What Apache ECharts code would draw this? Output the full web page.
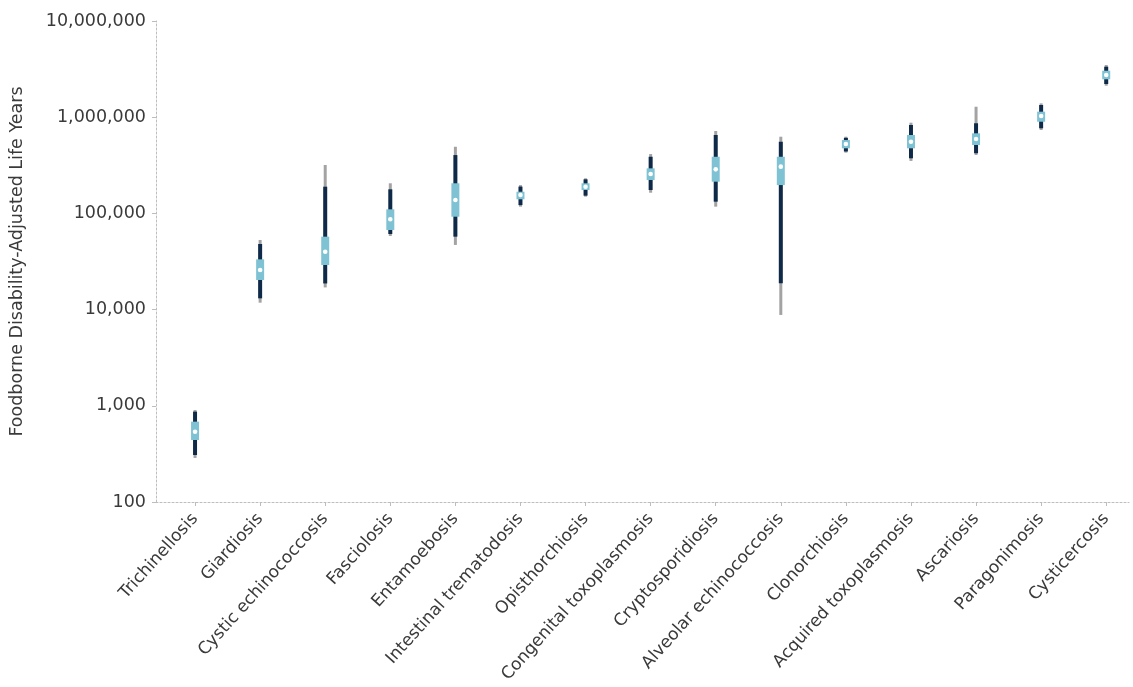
<!DOCTYPE html>
<html>
<head>
<meta charset="utf-8">
<script src="https://cdn.jsdelivr.net/npm/echarts@6/dist/echarts.min.js"></script>
<style>
  html, body { margin: 0; padding: 0; background: #fff; }
  #chart { width: 1133px; height: 687px; }
</style>
</head>
<body>
<div id="chart"></div>
<script>
// Foodborne parasitic diseases, DALYs (uncertainty ranges)
const categories = [
  'Trichinellosis', 'Giardiosis', 'Cystic echinococcosis', 'Fasciolosis',
  'Entamoebosis', 'Intestinal trematodosis', 'Opisthorchiosis',
  'Congenital toxoplasmosis', 'Cryptosporidiosis', 'Alveolar echinococcosis',
  'Clonorchiosis', 'Acquired toxoplasmosis', 'Ascariosis', 'Paragonimosis',
  'Cysticercosis'
];
// outer interval (grey)
const outerLow  = [287, 11800, 17000, 58200, 47000, 117500, 149300, 164000, 117500, 8800, 428000, 351000, 405000, 736000, 2125000];
const outerHigh = [905, 52900, 318500, 205600, 493000, 197000, 231800, 414000, 719000, 627000, 627000, 877000, 1285000, 1393000, 3490000];
// inner interval (dark)
const innerLow  = [308, 13100, 18700, 61100, 57300, 122000, 153000, 175000, 132400, 18800, 440000, 374000, 422000, 767000, 2213000];
const innerHigh = [870, 48100, 189500, 178000, 404000, 190000, 226000, 388000, 653000, 556000, 610000, 830000, 865000, 1339000, 3350000];
// interquartile range (light blue)
const q1 = [441, 20300, 29100, 67200, 92400, 140200, 175000, 222500, 213600, 197000, 475000, 475000, 514000, 897000, 2477000];
const q3 = [684, 33300, 57300, 110300, 205600, 168000, 205600, 294000, 388000, 388000, 579000, 653000, 680000, 1141000, 3042000];
// median
const median = [538, 25800, 40000, 86900, 137800, 155400, 189500, 257000, 287000, 306000, 526000, 556000, 593000, 1029000, 2745000];

const COLORS = { outer: '#a3a3a3', inner: '#0f2a48', box: '#7ec2d4', dot: '#ffffff' };
const TEXT = '#3a3a3a';
const FONT = 'DejaVu Sans';

const seriesData = categories.map((c, i) => [i, outerLow[i], innerLow[i], q1[i], median[i], q3[i], innerHigh[i], outerHigh[i]]);

function renderItem(params, api) {
  const i = api.value(0);
  const p = idx => api.coord([i, api.value(idx)]);
  const oL = p(1), iL = p(2), b1 = p(3), m = p(4), b3 = p(5), iH = p(6), oH = p(7);
  const x = oL[0];
  return {
    type: 'group',
    children: [
      { type: 'line', shape: { x1: x, y1: oL[1], x2: x, y2: oH[1] },
        style: { stroke: COLORS.outer, lineWidth: 3 } },
      { type: 'line', shape: { x1: x, y1: iL[1], x2: x, y2: iH[1] },
        style: { stroke: COLORS.inner, lineWidth: 4 } },
      { type: 'rect', shape: { x: x - 4, y: b3[1], width: 8, height: b1[1] - b3[1] },
        style: { fill: COLORS.box } },
      { type: 'circle', shape: { cx: x, cy: m[1], r: 2.3 },
        style: { fill: COLORS.dot } }
    ]
  };
}

const chart = echarts.init(document.getElementById('chart'), null, { renderer: 'canvas' });
chart.setOption({
  animation: false,
  backgroundColor: '#ffffff',
  grid: { left: 156, right: 4, top: 21, bottom: 185, containLabel: false },
  xAxis: {
    type: 'value',
    min: -0.6,
    max: 14.35,
    splitLine: { show: false },
    axisLine: { show: true, onZero: false, lineStyle: { color: '#bdbdbd', type: [2, 2], width: 1 } },
    axisTick: { show: true, customValues: categories.map((c, i) => i), length: 4, lineStyle: { color: '#bdbdbd' } },
    axisLabel: {
      customValues: categories.map((c, i) => i),
      formatter: v => categories[Math.round(v)] || '',
      rotate: 48,
      margin: 14,
      color: TEXT,
      fontFamily: FONT,
      fontSize: 17
    }
  },
  yAxis: {
    type: 'log',
    logBase: 10,
    min: 100,
    max: 10000000,
    name: 'Foodborne Disability-Adjusted Life Years',
    nameLocation: 'middle',
    nameGap: 130,
    nameTextStyle: { color: TEXT, fontFamily: FONT, fontSize: 17.5 },
    splitLine: { show: false },
    axisLine: { show: true, onZero: false, lineStyle: { color: '#bdbdbd', type: [2, 2], width: 1 } },
    axisTick: { show: true, length: 4, lineStyle: { color: '#bdbdbd' } },
    axisLabel: {
      margin: 10,
      color: TEXT,
      fontFamily: FONT,
      fontSize: 17.5,
      formatter: v => Math.round(v).toLocaleString('en-US')
    }
  },
  series: [{
    type: 'custom',
    renderItem: renderItem,
    data: seriesData,
    encode: { x: 0, y: [1, 7] },
    clip: false
  }]
});
</script>
</body>
</html>
